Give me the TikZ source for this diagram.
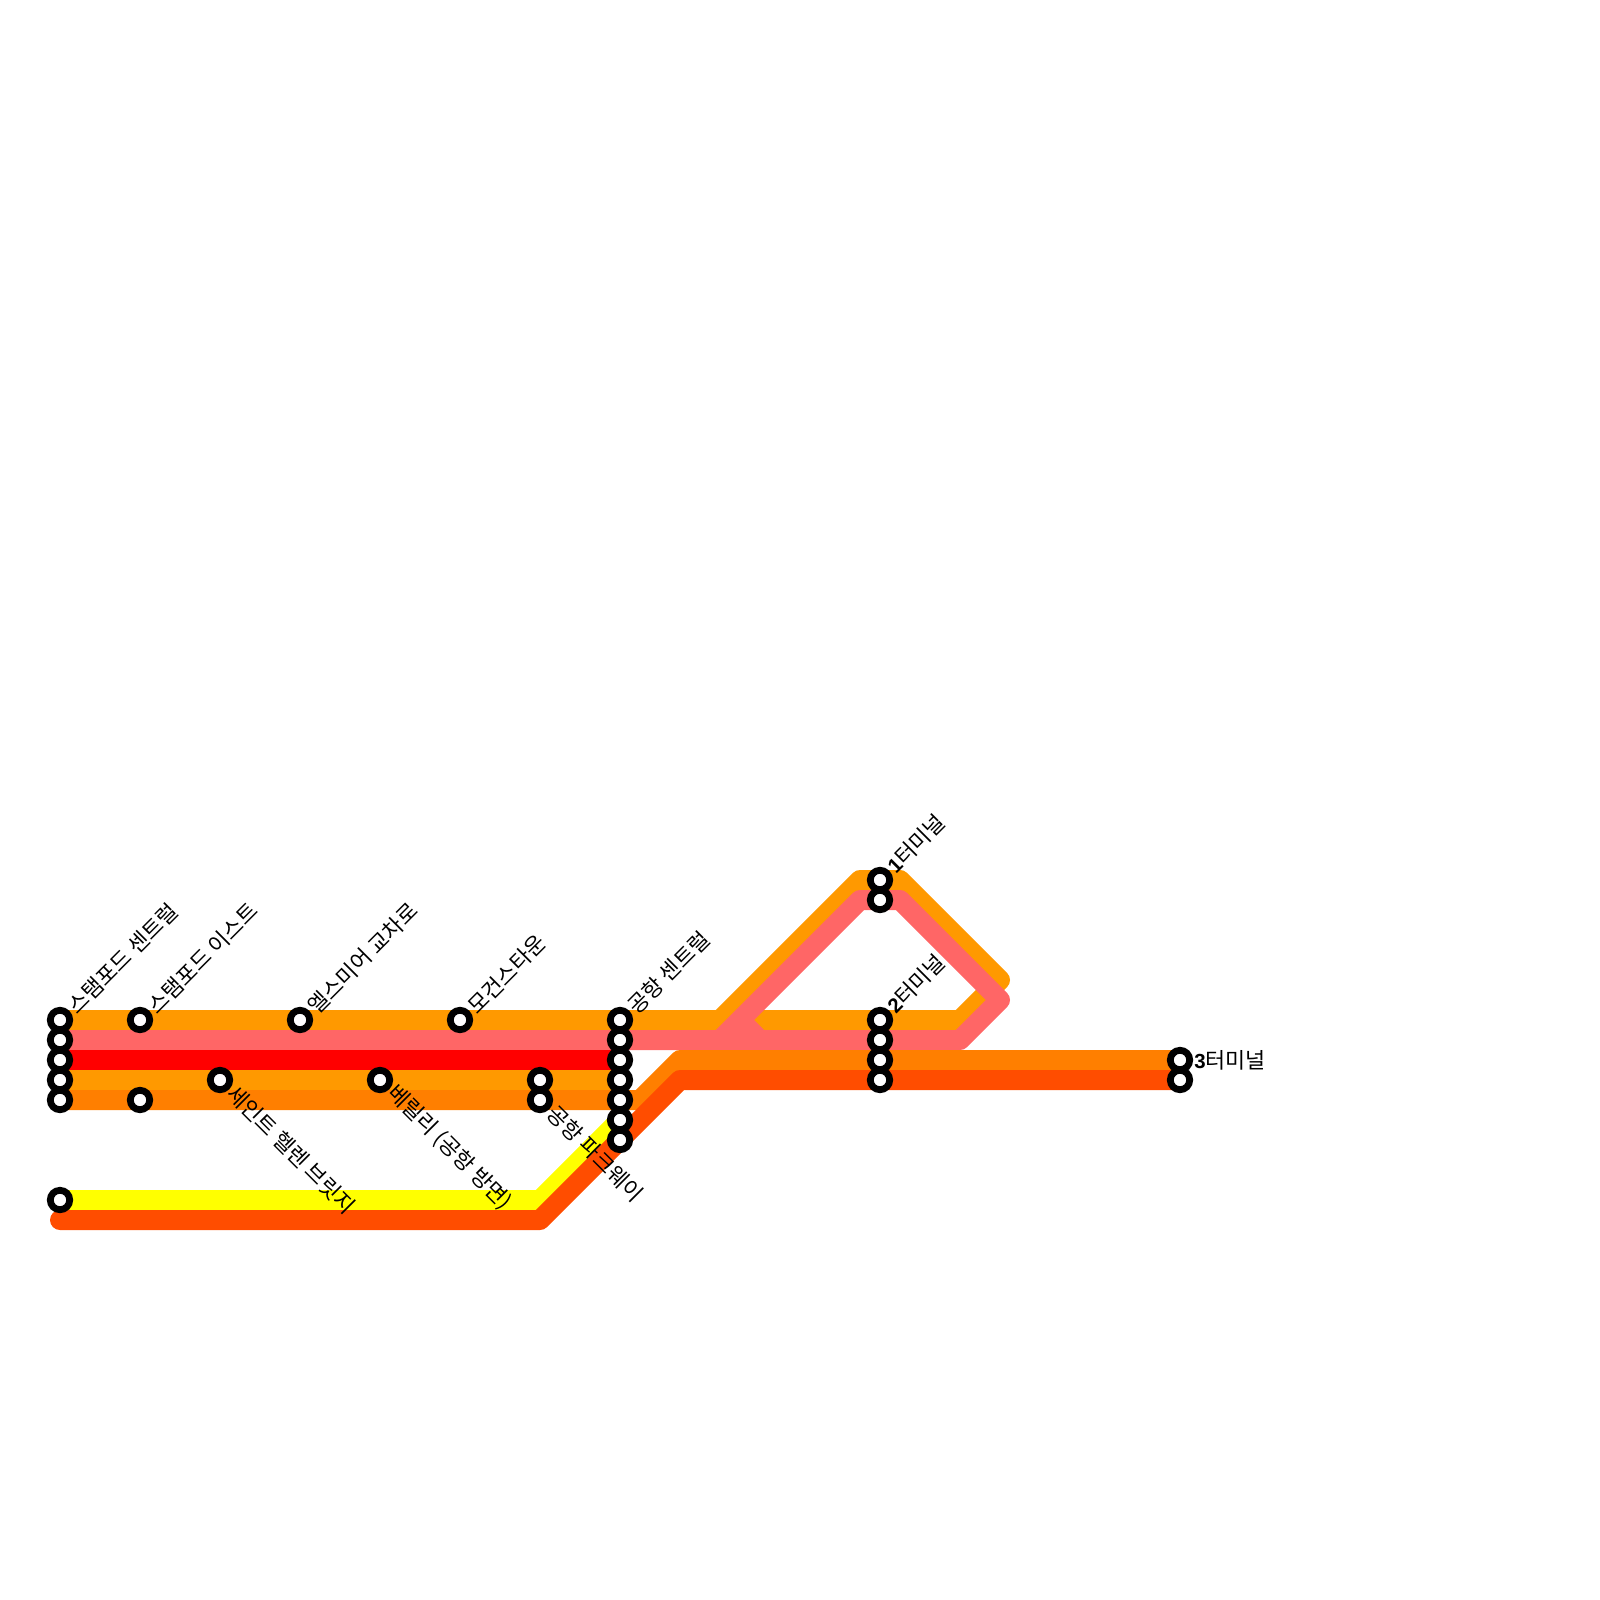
\documentclass[tikz,border=0pt]{standalone}
\usepackage{fontspec}
\setmainfont{Liberation Sans}
\newfontfamily\krfont{Noto Sans CJK KR}
\usetikzlibrary{backgrounds, calc}
\definecolor{lineamber}{HTML}{FF9900}
\definecolor{linepink}{HTML}{FF6666}
\definecolor{linered}{HTML}{FF0000}
\definecolor{linedark}{HTML}{FF7F00}
\definecolor{lineember}{HTML}{FF4D00}
\definecolor{lineyellow}{HTML}{FFFF00}

\begin{document}
\begin{tikzpicture}[
  x=0.5pt, y=-0.5pt,
  font=\krfont\fontsize{10.9}{13}\selectfont,
  route/.style={line width=10pt, line join=round, line cap=round},
  stn/.style={
    circle,
    draw=black,
    fill=white,
    line width=3.4pt,
    minimum size=9.7pt,
    inner sep=0pt
  },
  lblup/.style={rotate=45, anchor=west, inner sep=0pt},
  lbldown/.style={rotate=-45, anchor=west, inner sep=0pt},
  lblnum/.style={font=\rmfamily\bfseries\fontsize{10.2}{13}\selectfont}
]
  \useasboundingbox (0,0) rectangle (1600,1600);

  % --- Stations ---
  \foreach \name/\x/\y in {
      a1/60/1020, a2/60/1040, a3/60/1060, a4/60/1080, a5/60/1100, a6/60/1200,
      b1/140/1020, b2/140/1100, c1/220/1080, d1/300/1020, e1/380/1080,
      f1/460/1020, g1/540/1080, g2/540/1100,
      h1/620/1020, h2/620/1040, h3/620/1060, h4/620/1080, h5/620/1100, h6/620/1120, h7/620/1140,
      t1/880/880, t2/880/900, t3/880/1020, t4/880/1040, t5/880/1060, t6/880/1080,
      u1/1180/1060, u2/1180/1080}
    \node[stn] (\name) at (\x,\y) {};

  % --- Bends and free ends ---
  \coordinate (amberA) at (720,1020);
  \coordinate (amberB) at (860,880);
  \coordinate (amberC) at (900,880);
  \coordinate (amberD) at (1000,980);
  \coordinate (amberE) at (960,1020);
  \coordinate (amberF) at (760,1020);
  \coordinate (amberG) at (740,1000);
  \coordinate (pinkA) at (720,1040);
  \coordinate (pinkB) at (860,900);
  \coordinate (pinkC) at (900,900);
  \coordinate (pinkD) at (1000,1000);
  \coordinate (pinkE) at (960,1040);
  \coordinate (pinkF) at (760,1040);
  \coordinate (pinkG) at (740,1020);
  \coordinate (darkA) at (640,1100);
  \coordinate (darkB) at (680,1060);
  \coordinate (yelA) at (540,1200);
  \coordinate (emberS) at (60,1220);
  \coordinate (emberA) at (540,1220);
  \coordinate (emberB) at (680,1080);

  % --- Lines go under the stations ---
  \begin{scope}[on background layer]
    \draw[route, lineamber] (a1.center) -- (amberA) -- (amberB) -- (amberC) -- (amberD) -- (amberE) -- (amberF) -- (amberG);
    \draw[route, linepink] (a2.center) -- (pinkA) -- (pinkB) -- (pinkC) -- (pinkD) -- (pinkE) -- (pinkF) -- (pinkG) -- (pinkA) -- (pinkF);
    \draw[route, linered] (a3.center) -- (h3.center);
    \draw[route, lineamber] (a4.center) -- (h4.center);
    \draw[route, linedark] (a5.center) -- (darkA) -- (darkB) -- (u1.center);
    \draw[route, lineyellow] (a6.center) -- (yelA) -- (h6.center);
    \draw[route, lineember] (emberS) -- (emberA) -- (emberB) -- (u2.center);
  \end{scope}

  % --- Labels ---
  \node[lblup] (la1) at ($(a1)+(11,-10)$) {스탬포드 센트럴};
  \node[lblup] (lb1) at ($(b1)+(11,-10)$) {스탬포드 이스트};
  \node[lblup] (ld1) at ($(d1)+(11,-10)$) {엘스미어 교차로};
  \node[lblup] (lf1) at ($(f1)+(11,-10)$) {모건스타운};
  \node[lblup] (lh1) at ($(h1)+(11,-10)$) {공항 센트럴};
  \node[lbldown] (lc1) at ($(c1)+(11,9)$) {세인트 헬렌 브릿지};
  \node[lbldown] (le1) at ($(e1)+(11,9)$) {베릴리 (공항 방면)};
  \node[lbldown] (lg2) at ($(g2)+(11,9)$) {공항 파크웨이};
  \node[lblup] (lt1) at ($(t1)+(10,-11)$) {{\fontsize{10.2}{13}\rmfamily\bfseries 1}터미널};
  \node[lblup] (lt3) at ($(t3)+(10,-11)$) {{\fontsize{10.2}{13}\rmfamily\bfseries 2}터미널};
  \node[anchor=west, inner sep=0pt] (lu1) at ($(u1)+(14,0)$) {{\fontsize{10.2}{13}\rmfamily\bfseries 3}터미널};

\end{tikzpicture}
\end{document}
